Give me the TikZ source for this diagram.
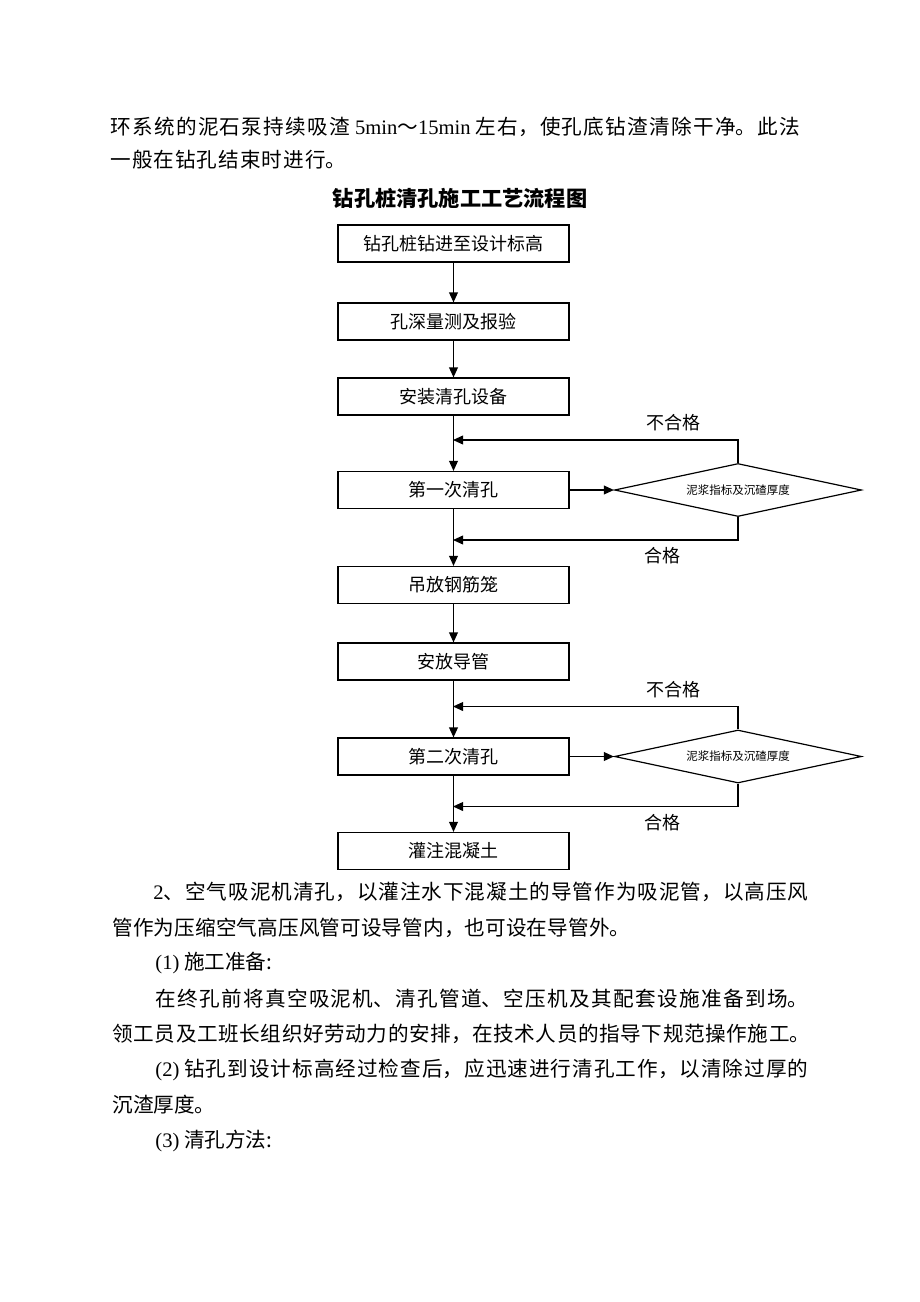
\documentclass[tikz,border=0pt]{standalone}
\usepackage{fontspec}
\setmainfont{Noto Sans CJK SC}
\newfontfamily\latfont{Liberation Serif}
\usetikzlibrary{arrows.meta,shapes.geometric}
\XeTeXlinebreaklocale "zh"
\XeTeXlinebreakskip=0pt plus 4pt

\begin{document}
\begin{tikzpicture}[x=0.5pt, y=-0.5pt]
  \tikzstyle{stepbox}=[draw, line width=0.6pt, minimum width=115.5pt, minimum height=18.5pt, inner sep=0pt, font=\fontsize{9pt}{11pt}\selectfont]
  \tikzstyle{check}=[draw, diamond, aspect=4.66, line width=0.6pt, minimum width=123.5pt, minimum height=26.5pt, inner sep=0pt, font=\fontsize{5.75pt}{7pt}\selectfont]
  \tikzstyle{flow}=[-{Triangle[length=5pt,width=4.4pt]}, line width=0.6pt]
  \tikzstyle{lbl}=[inner sep=0pt, font=\fontsize{9pt}{11pt}\selectfont]
  \tikzstyle{bodytext}=[anchor=west, inner sep=0pt, font=\fontsize{10.3pt}{14pt}\selectfont]

  \fill[white] (0, 0) rectangle (920, 1302);
  \useasboundingbox (0, 0) rectangle (920, 1302);

  % text above the chart
  \node[bodytext] (l1) at (110, 127) {\parbox{345pt}{\parfillskip=0pt 环系统的泥石泵持续吸渣 {\latfont 5min}～{\latfont 15min} 左右，使孔底钻渣清除干净。此法}};
  \node[bodytext] (l2) at (110, 160) {\parbox{118pt}{\parfillskip=0pt 一般在钻孔结束时进行。}};
  \node[font=\fontsize{10.6pt}{12pt}\selectfont\bfseries] (title) at (460, 198) {钻孔桩清孔施工工艺流程图};

  % flow chart
  \node[stepbox] (b1) at (453.5, 243.5) {钻孔桩钻进至设计标高};
  \node[stepbox] (b2) at (453.5, 321.5) {孔深量测及报验};
  \node[stepbox] (b3) at (453.5, 396.5) {安装清孔设备};
  \node[stepbox] (b4) at (453.5, 490) {第一次清孔};
  \node[stepbox] (b5) at (453.5, 585) {吊放钢筋笼};
  \node[stepbox] (b6) at (453.5, 661.5) {安放导管};
  \node[stepbox] (b7) at (453.5, 756.5) {第二次清孔};
  \node[stepbox] (b8) at (453.5, 851) {灌注混凝土};

  \node[check] (d1) at (738, 490) {泥浆指标及沉碴厚度};
  \node[check] (d2) at (738, 756.5) {泥浆指标及沉碴厚度};

  \coordinate (j1) at (453, 440);
  \coordinate (j2) at (453, 540);
  \coordinate (j3) at (453, 706.5);
  \coordinate (j4) at (453, 806.5);

  \foreach \a/\b in {b1/b2, b2/b3, b3/b4, b4/b5, b5/b6, b6/b7, b7/b8} {
    \draw[flow] (\a.south) -- (\b.north);
  }
  \draw[flow] (b4.east) -- (d1.west);
  \draw[flow] (b7.east) -- (d2.west);
  \draw[flow] (d1.north) |- (j1);
  \draw[flow] (d1.south) |- (j2);
  \draw[flow] (d2.north) |- (j3);
  \draw[flow] (d2.south) |- (j4);

  \node[lbl] (ng1) at (673, 423) {不合格};
  \node[lbl] (ok1) at (662, 556) {合格};
  \node[lbl] (ng2) at (673, 689.5) {不合格};
  \node[lbl] (ok2) at (662, 822.5) {合格};

  % text below the chart
  \node[bodytext] (p1) at (153, 892) {\parbox{327.5pt}{\parfillskip=0pt {\latfont 2}、空气吸泥机清孔，以灌注水下混凝土的导管作为吸泥管，以高压风}};
  \node[bodytext] (p2) at (112, 927.5) {\parbox{259pt}{\parfillskip=0pt 管作为压缩空气高压风管可设导管内，也可设在导管外。}};
  \node[bodytext] (p3) at (155, 963) {{\latfont (1)} 施工准备:};
  \node[bodytext] (p4) at (155, 998.5) {\parbox{326.5pt}{\parfillskip=0pt 在终孔前将真空吸泥机、清孔管道、空压机及其配套设施准备到场。}};
  \node[bodytext] (p5) at (112, 1034) {\parbox{349pt}{\parfillskip=0pt 领工员及工班长组织好劳动力的安排，在技术人员的指导下规范操作施工。}};
  \node[bodytext] (p6) at (155, 1069.5) {\parbox{326.5pt}{\parfillskip=0pt {\latfont (2)} 钻孔到设计标高经过检查后，应迅速进行清孔工作，以清除过厚的}};
  \node[bodytext] (p7) at (112, 1105) {沉渣厚度。};
  \node[bodytext] (p8) at (155, 1140.5) {{\latfont (3)} 清孔方法:};
\end{tikzpicture}
\end{document}
